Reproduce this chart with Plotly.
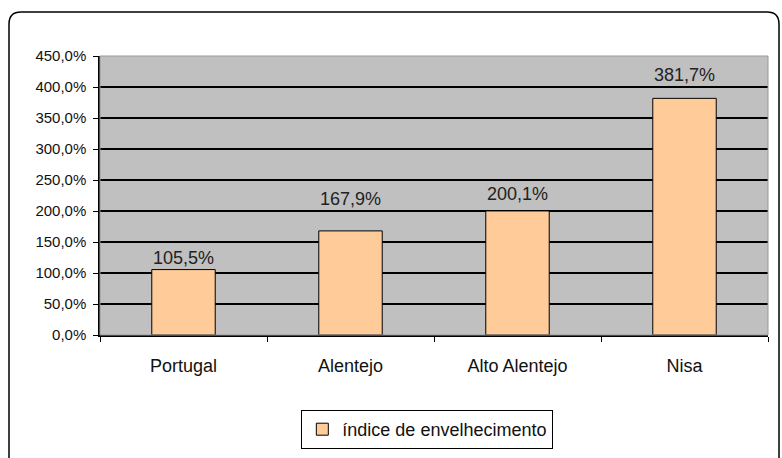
import plotly.graph_objects as go

categories = ["Portugal", "Alentejo", "Alto Alentejo", "Nisa"]
values = [105.5, 167.9, 200.1, 381.7]
series_name = "índice de envelhecimento"
tick_vals = [0, 50, 100, 150, 200, 250, 300, 350, 400, 450]
# the data labels were nudged by hand in the original, pixels above bar top
label_lift = [12, 32, 17, 23]

W, H = 782, 458
L, R, T, B = 100, 14, 56, 123
pw, ph = W - L - R, H - T - B


def px_x(x):
    return (x - L) / pw


def px_y(y):
    return (H - B - y) / ph


def pt(v):
    return f"{v:.1f}".replace(".", ",") + "%"


labels = [pt(v) for v in values]
tick_text = [pt(v) for v in tick_vals]

fig = go.Figure()
fig.add_trace(go.Bar(
    x=categories,
    y=values,
    name=series_name,
    marker=dict(color="#FFCC99", line=dict(color="black", width=1)),
    showlegend=True,
))

for cat, v, lab, lift in zip(categories, values, labels, label_lift):
    fig.add_annotation(x=cat, y=v, text=lab, showarrow=False,
                       yanchor="middle", yshift=lift,
                       font=dict(size=18, color="#222222"))

# outer chart border with rounded top corners
x0, x1 = px_x(9), px_x(779)
y0, y1 = px_y(470), px_y(12)
rx, ry = 12 / pw, 12 / ph
path = (f"M {x0},{y0} L {x0},{y1 - ry} Q {x0},{y1} {x0 + rx},{y1} "
        f"L {x1 - rx},{y1} Q {x1},{y1} {x1},{y1 - ry} L {x1},{y0}")

fig.update_layout(
    width=W, height=H,
    margin=dict(l=L, r=R, t=T, b=B, autoexpand=False),
    paper_bgcolor="white",
    plot_bgcolor="#C0C0C0",
    font=dict(family="Liberation Sans, Arial, sans-serif", color="#111111"),
    bargap=0.62,
    showlegend=True,
    legend=dict(
        orientation="h", x=0.49, xanchor="center",
        yref="container", y=1 - 410 / H, yanchor="top",
        bordercolor="black", borderwidth=1, font=dict(size=18),
        itemwidth=30,
    ),
    shapes=[
        dict(type="path", path=path, xref="paper", yref="paper",
             line=dict(color="black", width=1.5)),
        dict(type="rect", xref="paper", yref="paper", x0=0, x1=1, y0=0, y1=1,
             line=dict(color="#999999", width=1), layer="above"),
    ],
)
fig.update_yaxes(
    range=[0, 450], tickvals=tick_vals, ticktext=tick_text,
    showgrid=True, gridcolor="black", gridwidth=1.5,
    showline=True, linecolor="black", linewidth=1.5,
    ticks="outside", ticklen=5, tickcolor="black",
    tickfont=dict(size=15), zeroline=False, automargin=False,
    ticklabelstandoff=4,
)
fig.update_xaxes(
    type="category", tickson="boundaries",
    showline=True, linecolor="black", linewidth=1.5,
    ticks="outside", ticklen=5, tickcolor="black",
    tickfont=dict(size=18), showgrid=False, ticklabelstandoff=14,
    automargin=False,
)

fig.write_html("out.html", config={"displayModeBar": False},
               post_script="document.body.style.margin='0';")
